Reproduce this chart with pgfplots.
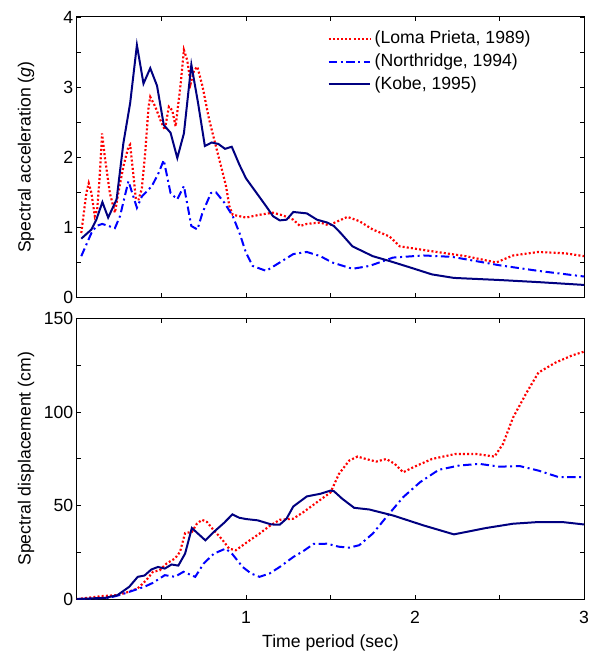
\documentclass[border=0pt]{standalone}
\usepackage{fontspec}
\setmainfont{Liberation Sans}
\usepackage{pgfplots}
\pgfplotsset{compat=1.18}
\definecolor{kobe}{RGB}{0,0,128}
\definecolor{north}{RGB}{0,0,255}
\definecolor{loma}{RGB}{255,0,0}

\pgfplotsset{
  spec/.style={
    scale only axis, width=304.8pt, height=168.6pt,
    xmin=0, xmax=3,
    xtick={0.5,1,...,3},
    tick align=inside, major tick length=2.6pt,
    tick style={black, line width=0.5pt},
    axis line style={line width=0.6pt},
    font=\fontsize{10.6}{12.7}\selectfont,
    /pgf/number format/assume math mode=true,
    yticklabel style={inner xsep=2pt},
    xticklabel style={yshift=-4pt},
    ylabel style={at={(axis description cs:-0.1,0.5)}, anchor=center},
  },
  loma/.style={color=loma, line width=1.3pt, dash pattern=on 1.2pt off 1.3pt},
  north/.style={color=north, line width=1.2pt, dash pattern=on 5pt off 2.2pt on 1.2pt off 2.2pt},
  kobe/.style={color=kobe, line width=1.2pt},
}

\begin{document}
\begin{tikzpicture}
\path[use as bounding box] (-46.2pt,-216pt) rectangle (311.7pt,178.8pt);

\begin{axis}[spec, at={(0,0)}, anchor=south west,
  ymin=0, ymax=4, ytick={0,0.5,...,4}, yticklabels={0,,1,,2,,3,,4},
  xticklabels={},
  ylabel={Spectral acceleration (\textit{g})},
  legend style={at={(0.487,0.975)}, anchor=north west, draw=none, fill=none,
    font=\fontsize{10.6}{12.7}\selectfont, row sep=0.6pt, inner sep=2pt},
  legend cell align=left,
  legend image code/.code={\draw[#1] (0cm,0cm) -- (0.88cm,0cm);}]
\addplot[loma] coordinates {
(0.026,0.92)(0.056,1.49)(0.070,1.63)(0.086,1.49)(0.106,1.16)(0.120,1.25)
(0.135,1.73)(0.149,2.34)(0.165,2.01)(0.195,1.49)(0.225,1.21)(0.245,1.49)
(0.275,1.87)(0.305,2.15)(0.315,2.18)(0.335,1.73)(0.349,1.40)(0.365,1.40)
(0.384,1.55)(0.404,2.06)(0.424,2.72)(0.434,2.86)(0.464,2.72)(0.494,2.53)
(0.520,2.39)(0.544,2.72)(0.564,2.67)(0.584,2.44)(0.614,3.05)(0.633,3.53)
(0.653,3.38)(0.673,3.05)(0.693,3.24)(0.713,3.29)(0.743,3.01)(0.783,2.53)
(0.823,2.15)(0.853,1.87)(0.882,1.59)(0.902,1.30)(0.922,1.18)(0.962,1.16)
(1.00,1.14)(1.04,1.16)(1.08,1.18)(1.16,1.21)(1.22,1.17)(1.28,1.11)
(1.32,1.02)(1.36,1.05)(1.44,1.07)(1.49,1.03)(1.60,1.15)(1.67,1.09)
(1.75,0.97)(1.85,0.87)(1.91,0.73)(2.10,0.66)(2.30,0.59)(2.48,0.50)
(2.58,0.60)(2.73,0.65)(2.89,0.63)(3.00,0.59)};
\addlegendentry{(Loma Prieta, 1989)}
\addplot[north] coordinates {
(0.026,0.59)(0.086,0.92)(0.115,1.02)(0.150,1.05)(0.225,0.99)(0.255,1.16)
(0.305,1.66)(0.330,1.47)(0.355,1.28)(0.384,1.44)(0.444,1.59)(0.484,1.78)
(0.514,1.96)(0.554,1.49)(0.594,1.40)(0.633,1.59)(0.677,1.02)(0.713,0.97)
(0.743,1.21)(0.793,1.49)(0.823,1.50)(0.873,1.35)(0.922,1.16)(0.962,0.92)
(1.00,0.64)(1.04,0.45)(1.12,0.38)(1.20,0.50)(1.28,0.62)(1.36,0.65)
(1.44,0.59)(1.51,0.50)(1.63,0.41)(1.73,0.45)(1.87,0.57)(2.05,0.60)
(2.22,0.58)(2.50,0.46)(2.73,0.38)(3.00,0.30)};
\addlegendentry{(Northridge, 1994)}
\addplot[kobe] coordinates {
(0.026,0.84)(0.086,0.97)(0.115,1.11)(0.151,1.36)(0.185,1.14)(0.235,1.40)
(0.275,2.20)(0.315,2.77)(0.355,3.60)(0.394,3.05)(0.434,3.27)(0.474,3.02)
(0.514,2.46)(0.554,2.35)(0.594,1.99)(0.633,2.34)(0.677,3.32)(0.717,2.77)
(0.757,2.16)(0.797,2.21)(0.837,2.19)(0.876,2.12)(0.916,2.15)(0.962,1.89)
(1.00,1.70)(1.06,1.50)(1.12,1.30)(1.16,1.16)(1.20,1.10)(1.24,1.11)
(1.28,1.22)(1.36,1.20)(1.42,1.11)(1.48,1.07)(1.52,1.02)(1.56,0.92)
(1.63,0.73)(1.75,0.59)(1.85,0.52)(1.97,0.43)(2.10,0.33)(2.23,0.28)
(2.50,0.25)(2.73,0.22)(3.00,0.18)};
\addlegendentry{(Kobe, 1995)}
\end{axis}

\begin{axis}[spec, at={(0,-12.6pt)}, anchor=north west,
  ymin=0, ymax=150, ytick={0,25,...,150}, yticklabels={0,,50,,100,,150},
  xticklabels={,1,,2,,3},
  ylabel={Spectral displacement (cm)},
  xlabel={Time period (sec)},
  xlabel style={at={(axis description cs:0.5,-0.155)}, anchor=center}]
\addplot[loma] coordinates {
(0,0)(0.15,1.6)(0.24,2.1)(0.29,3.4)(0.36,5.7)(0.41,10.1)(0.45,14.6)
(0.49,15.4)(0.53,19.0)(0.58,21.7)(0.61,25.2)(0.64,35.3)(0.68,35.9)
(0.71,40.3)(0.74,42.4)(0.77,41.2)(0.81,36.7)(0.86,31.8)(0.90,27.0)
(0.94,26.1)(1.00,30.0)(1.08,35.0)(1.14,39.1)(1.20,42.4)(1.28,43.0)
(1.34,46.5)(1.42,51.8)(1.50,57.0)(1.55,66.9)(1.61,74.0)(1.66,76.2)
(1.71,74.9)(1.77,73.5)(1.83,74.9)(1.88,72.3)(1.93,67.8)(1.99,70.5)
(2.10,74.9)(2.24,77.6)(2.36,77.6)(2.47,76.2)(2.52,82.9)(2.58,97.1)
(2.66,110.4)(2.73,121.1)(2.83,126.4)(2.93,130.3)(3.00,132.3)};
\addplot[north] coordinates {
(0,0)(0.19,0.7)(0.25,2.1)(0.31,3.9)(0.40,6.6)(0.45,8.7)(0.52,12.8)
(0.58,11.9)(0.63,14.6)(0.70,11.9)(0.75,19.0)(0.81,24.3)(0.88,27.0)
(0.92,24.0)(0.98,17.2)(1.03,13.7)(1.08,11.9)(1.14,13.7)(1.20,17.2)
(1.28,22.5)(1.34,25.7)(1.40,29.5)(1.48,29.6)(1.55,28.0)(1.61,27.5)
(1.67,28.8)(1.75,35.0)(1.83,43.8)(1.93,54.5)(2.03,62.5)(2.14,69.1)
(2.26,71.4)(2.38,72.3)(2.50,70.8)(2.62,71.1)(2.73,68.7)(2.85,65.2)
(3.00,65.2)};
\addplot[kobe] coordinates {
(0,0)(0.093,0.4)(0.17,0.7)(0.24,2.1)(0.31,6.6)(0.36,11.9)(0.40,12.6)
(0.44,15.8)(0.48,17.2)(0.52,16.3)(0.56,18.5)(0.60,17.9)(0.64,24.3)
(0.68,38.0)(0.76,31.4)(0.81,35.9)(0.87,40.7)(0.92,45.3)(0.96,43.5)
(1.00,42.8)(1.07,42.1)(1.15,39.9)(1.20,39.8)(1.24,43.0)(1.28,49.5)
(1.32,52.2)(1.36,54.9)(1.44,56.3)(1.50,58.0)(1.52,57.7)(1.57,53.6)
(1.64,48.8)(1.73,47.9)(1.87,44.7)(2.05,39.4)(2.23,34.6)(2.42,38.0)
(2.58,40.3)(2.73,41.2)(2.87,41.2)(3.00,39.9)};
\end{axis}
\end{tikzpicture}
\end{document}
